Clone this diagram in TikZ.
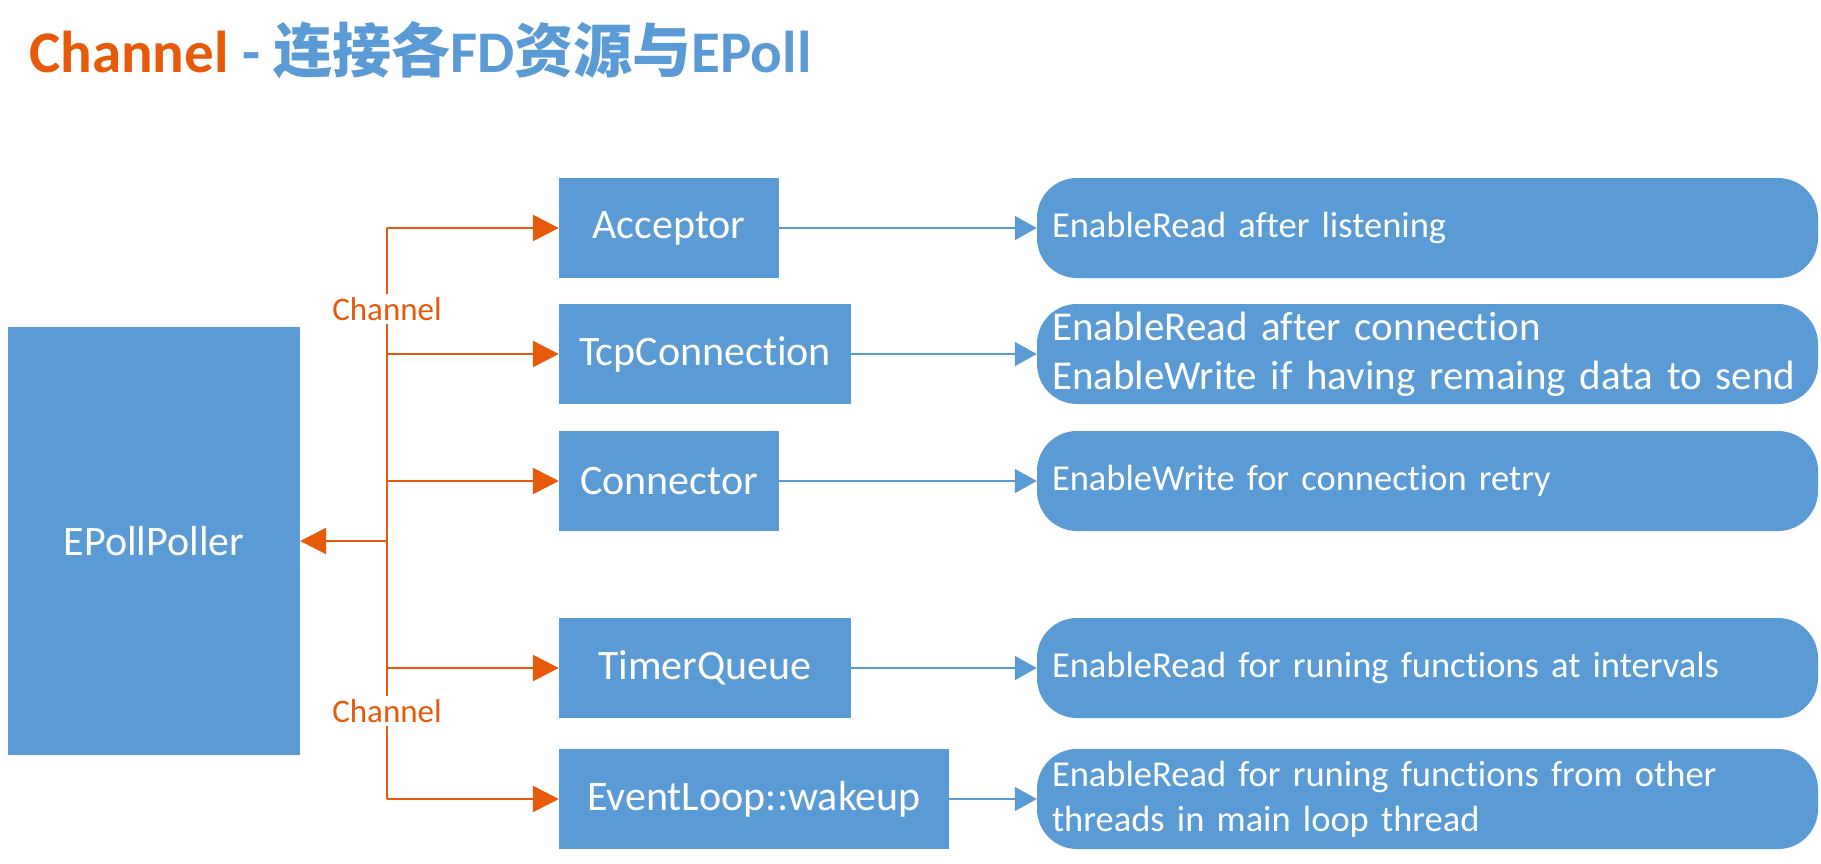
\documentclass[tikz,border=0pt]{standalone}
\usepackage{fontspec}
\setmainfont{Carlito}[Ligatures=NoCommon]
\newfontfamily\cjk{Noto Sans CJK SC}
\usetikzlibrary{arrows.meta}
\definecolor{cblue}{RGB}{91,155,213}
\definecolor{corange}{RGB}{230,90,10}
\tikzset{
  midbox/.style={fill=cblue, draw=none, text=white, minimum height=100pt, inner sep=0pt, font=\fontsize{42}{48}\selectfont},
  descbox/.style={fill=cblue, draw=none, text=white, minimum height=100pt, minimum width=781pt, text width=751pt, align=left, rounded corners=40pt, inner sep=0pt, font=\fontsize{36.5}{48}\selectfont},
  chlabel/.style={text=corange, inner sep=3pt, font=\fontsize{33}{36}\selectfont},
  oarrow/.style={draw=corange, line width=2.5pt, -{Triangle[length=26pt,width=26pt]}},
  oline/.style={draw=corange, line width=2.5pt},
  barrow/.style={draw=cblue, line width=1.5pt, -{Triangle[length=22pt,width=24pt]}}
}
\begin{document}
\begin{tikzpicture}[x=1pt,y=-1pt]
\useasboundingbox[fill=white] (0,0) rectangle (1821,863);
\node[anchor=base west, inner sep=0pt, font=\fontsize{59}{64}\selectfont\bfseries] (title) at (29,72)
  {\textcolor{corange}{Channel} \textcolor{cblue}{- {\cjk 连接各}FD{\cjk 资源与}EPoll}};

\node[midbox, minimum width=292pt, minimum height=428pt] (epoll) at (154,541) {EPollPoller};

\node[midbox, minimum width=220pt] (acc) at (669,228) {Acceptor};
\node[midbox, minimum width=292pt] (tcp) at (705,354) {TcpConnection};
\node[midbox, minimum width=220pt] (con) at (669,481) {Connector};
\node[midbox, minimum width=292pt] (tq) at (705,668) {TimerQueue};
\node[midbox, minimum width=390pt] (ev) at (754,799) {EventLoop::wakeup};

\node[descbox] (d1) at (1427.5,228) {EnableRead after listening};
\node[descbox, font=\fontsize{41}{49}\selectfont] (d2) at (1427.5,354) {EnableRead after connection\\EnableWrite if having remaing data to send};
\node[descbox] (d3) at (1427.5,481) {EnableWrite for connection retry};
\node[descbox] (d4) at (1427.5,668) {EnableRead for runing functions at intervals};
\node[descbox, font=\fontsize{36.5}{45}\selectfont] (d5) at (1427.5,799) {EnableRead for runing functions from other\\threads in main loop thread};

\node[chlabel] (ch1) at (387,309) {Channel};
\node[chlabel] (ch2) at (387,711) {Channel};
\coordinate (top) at (387,228);
\coordinate (bot) at (387,799);
\coordinate (mid) at (387,541);

\draw[oline] (top) -- (ch1.north);
\draw[oline] (ch1.south) -- (ch2.north);
\draw[oline] (ch2.south) -- (bot);

\draw[oarrow] (top) -- (acc.west);
\draw[oarrow] (ch1.south |- tcp.west) -- (tcp.west);
\draw[oarrow] (ch1.south |- con.west) -- (con.west);
\draw[oarrow] (ch1.south |- tq.west) -- (tq.west);
\draw[oarrow] (bot) -- (ev.west);
\draw[oarrow] (mid) -- (epoll.east);

\draw[barrow] (acc.east) -- (d1.west);
\draw[barrow] (tcp.east) -- (d2.west);
\draw[barrow] (con.east) -- (d3.west);
\draw[barrow] (tq.east) -- (d4.west);
\draw[barrow] (ev.east) -- (d5.west);
\end{tikzpicture}
\end{document}
